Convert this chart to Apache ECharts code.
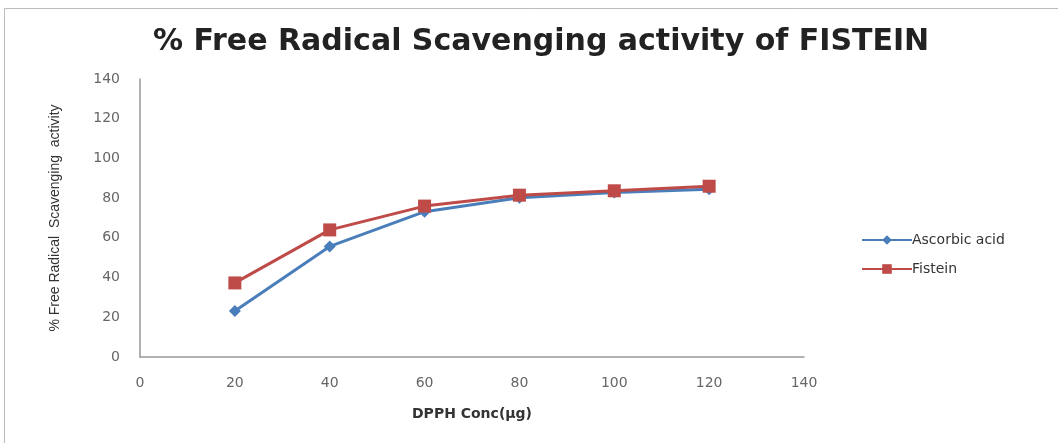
<!DOCTYPE html>
<html>
<head>
<meta charset="utf-8">
<script src="https://cdn.jsdelivr.net/npm/echarts@6/dist/echarts.min.js"></script>
<style>
  html, body { margin: 0; padding: 0; background: #fff; }
  #chart { width: 1058px; height: 443px; }
</style>
</head>
<body>
<div id="chart"></div>
<script>
// DPPH concentration (µg) and % scavenging for each sample
const concentrations = [20, 40, 60, 80, 100, 120];
const ascorbicAcid = [23.2, 55.7, 73.2, 80.2, 82.8, 84.5];
const fistein = [37.3, 64.0, 76.0, 81.5, 83.7, 86.0];
const seriesNames = ['Ascorbic acid', 'Fistein'];

const pairs = (xs, ys) => xs.map((x, i) => [x, ys[i]]);

const chart = echarts.init(document.getElementById('chart'));
const FONT = 'DejaVu Sans, sans-serif';
const axisText = { color: '#666', fontSize: 14, fontFamily: FONT };

chart.setOption({
  animation: false,
  title: {
    text: '% Free Radical Scavenging activity of FISTEIN',
    left: 148,
    top: 22,
    textStyle: { fontSize: 30, fontWeight: 'bold', color: '#222', fontFamily: FONT }
  },
  graphic: [{
    type: 'rect',
    shape: { x: 4.5, y: 8.5, width: 1100, height: 500 },
    style: { fill: 'none', stroke: '#bbb', lineWidth: 1 },
    silent: true
  }],
  grid: { left: 140, right: 254, top: 79, bottom: 86 },
  legend: {
    orient: 'vertical',
    left: 856,
    top: 228,
    itemWidth: 50,
    itemHeight: 12,
    itemGap: 15,
    textStyle: { color: '#333', fontSize: 14, fontFamily: FONT, padding: [0, 0, 0, -5] },
    data: seriesNames
  },
  xAxis: {
    type: 'value',
    min: 0, max: 140, interval: 20,
    name: 'DPPH Conc(µg)',
    nameLocation: 'middle',
    nameGap: 50,
    nameTextStyle: { color: '#333', fontSize: 14, fontWeight: 'bold', fontFamily: FONT },
    axisLine: { lineStyle: { color: '#999', width: 1.5 } },
    axisTick: { show: false },
    splitLine: { show: false },
    axisLabel: Object.assign({ margin: 19 }, axisText)
  },
  yAxis: {
    type: 'value',
    min: 0, max: 140, interval: 20,
    name: '% Free Radical  Scavenging  activity',
    nameLocation: 'middle',
    nameGap: 78,
    nameTextStyle: { color: '#333', fontSize: 14, fontFamily: 'Liberation Sans, sans-serif' },
    axisLine: { show: true, lineStyle: { color: '#999', width: 1.5 } },
    axisTick: { show: false },
    splitLine: { show: false },
    axisLabel: Object.assign({ margin: 20 }, axisText)
  },
  series: [
    {
      name: seriesNames[0],
      type: 'line',
      data: pairs(concentrations, ascorbicAcid),
      symbol: 'diamond',
      symbolSize: 12,
      lineStyle: { color: '#4a7ebb', width: 3 },
      itemStyle: { color: '#4a7ebb' },
      z: 2
    },
    {
      name: seriesNames[1],
      type: 'line',
      data: pairs(concentrations, fistein),
      symbol: 'rect',
      symbolSize: 13,
      lineStyle: { color: '#be4b48', width: 3 },
      itemStyle: { color: '#be4b48' },
      z: 3
    }
  ]
});
</script>
</body>
</html>
